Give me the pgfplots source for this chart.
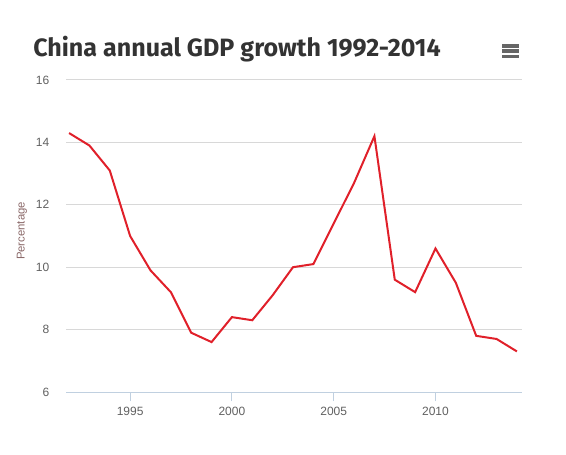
\documentclass[border=0pt]{standalone}
\usepackage{fontspec}
\setmainfont{Liberation Sans}
\newfontfamily\titlefont{Fira Sans}
\usepackage{pgfplots}
\pgfplotsset{compat=1.18}
\definecolor{gridc}{HTML}{D8D8D8}
\definecolor{axisc}{HTML}{C0D0E0}
\definecolor{tickc}{HTML}{606060}
\definecolor{menuc}{HTML}{666666}
\definecolor{linec}{HTML}{E0202A}
\definecolor{labc}{HTML}{8A6868}
\definecolor{titc}{HTML}{333333}
\begin{document}
\begin{tikzpicture}
\useasboundingbox (0pt,0pt) rectangle (424.5pt,340.5pt);
\node[anchor=base west,inner sep=0pt,text=titc,font=\titlefont\bfseries\fontsize{18.8}{21}\selectfont] at (24.75pt,297.75pt) {China annual GDP growth 1992-2014};
\foreach \yy in {298.3pt,302.2pt,306.1pt}{\draw[line width=2.6pt,color=menuc] (376.8pt,\yy) -- (389pt,\yy);}
\begin{axis}[
  at={(49.5pt,46.5pt)}, anchor=south west,
  scale only axis, width=342pt, height=234pt,
  xmin=1991.85, xmax=2014.25, ymin=6, ymax=16,
  xtick={1995,2000,2005,2010}, ytick={6,8,10,12,14,16},
  separate axis lines,
  axis x line*=bottom,
  x axis line style={draw=axisc, line width=0.75pt},
  y axis line style={draw=none},
  ytick pos=left,
  ymajorgrids, grid style={gridc, line width=0.75pt},
  major tick length=7pt,
  xtick style={draw=axisc, line width=0.75pt},
  ytick style={draw=none},
  xtick align=outside,
  ytick align=inside,
  xticklabel style={font=\fontsize{9}{10}\selectfont, text=tickc, yshift=-1pt},
  yticklabel style={font=\fontsize{9}{10}\selectfont, text=tickc, xshift=-9pt},
  /pgf/number format/assume math mode=true,
  /pgf/number format/1000 sep={},
  ylabel={Percentage},
  ylabel style={font=\fontsize{8.5}{10}\selectfont, text=labc, at={(axis description cs:-0.0965,0.516)}, anchor=center},
  clip=false,
]
\addplot[linec, line width=1.5pt] coordinates {
(1992,14.3) (1993,13.9) (1994,13.1) (1995,11.0) (1996,9.9) (1997,9.2)
(1998,7.9) (1999,7.6) (2000,8.4) (2001,8.3) (2002,9.1) (2003,10.0)
(2004,10.1) (2005,11.4) (2006,12.7) (2007,14.2) (2008,9.6) (2009,9.2)
(2010,10.6) (2011,9.5) (2012,7.8) (2013,7.7) (2014,7.3)};
\end{axis}
\end{tikzpicture}
\end{document}
